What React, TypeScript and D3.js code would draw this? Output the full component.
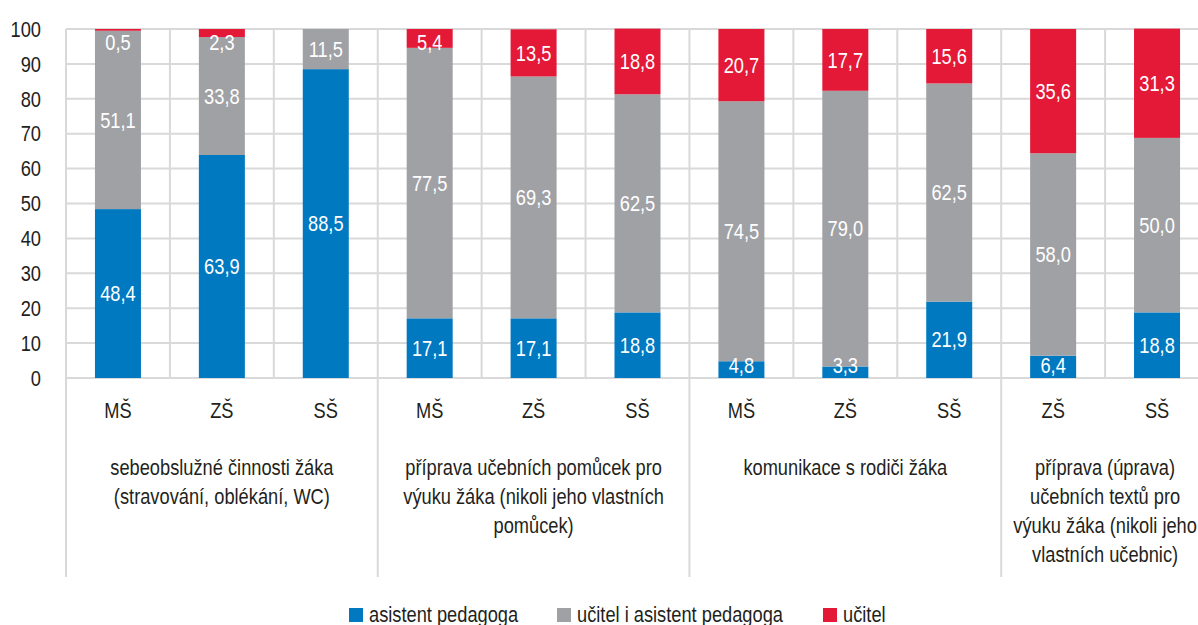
import React from "react";
import * as d3 from "d3";

const schools = ["MŠ", "ZŠ", "SŠ", "MŠ", "ZŠ", "SŠ", "MŠ", "ZŠ", "SŠ", "ZŠ", "SŠ"];
const groupOf = [0, 0, 0, 1, 1, 1, 2, 2, 2, 3, 3];
const groupLabels = [
  ["sebeobslužné činnosti žáka", "(stravování, oblékání, WC)"],
  ["příprava učebních pomůcek pro", "výuku žáka (nikoli jeho vlastních", "pomůcek)"],
  ["komunikace s rodiči žáka"],
  ["příprava (úprava)", "učebních textů pro", "výuku žáka (nikoli jeho", "vlastních učebnic)"],
];
const asistent = [48.4, 63.9, 88.5, 17.1, 17.1, 18.8, 4.8, 3.3, 21.9, 6.4, 18.8];
const oba = [51.1, 33.8, 11.5, 77.5, 69.3, 62.5, 74.5, 79.0, 62.5, 58.0, 50.0];
const ucitel = [0.5, 2.3, 0, 5.4, 13.5, 18.8, 20.7, 17.7, 15.6, 35.6, 31.3];
const seriesNames = ["asistent pedagoga", "učitel i asistent pedagoga", "učitel"];
const colors = ["#0079c1", "#a0a1a5", "#e31937"];
const yTicks = [0, 10, 20, 30, 40, 50, 60, 70, 80, 90, 100];

const W = 1198, H = 625;
const FONT = "'Liberation Sans', Arial, sans-serif";
const FS = 22;
const SX = 0.83;

function T({ x, y, anchor = "start", fill = "#231f20", children }: any) {
  return (
    <text transform={`translate(${x},${y}) scale(${SX},1)`} textAnchor={anchor} fontSize={FS} fill={fill} dy="0.35em">
      {children}
    </text>
  );
}

export default function App() {
  const x = d3.scaleBand<number>().domain(d3.range(schools.length)).range([66, 1209]).padding(0);
  const y = d3.scaleLinear().domain([0, 100]).range([378, 29]);
  const barW = 46;
  const step = x.step();
  const rows = schools.map((s, i) => ({ i, vals: [asistent[i], oba[i], ucitel[i]] }));
  const stack = d3.stack<any>().keys([0, 1, 2] as any).value((d: any, k: any) => d.vals[k]);
  const series = stack(rows as any);

  const groupStarts: number[] = [];
  groupOf.forEach((g, i) => { if (i === 0 || groupOf[i - 1] !== g) groupStarts.push(i); });
  const groups = groupStarts.map((s, gi) => {
    const end = gi + 1 < groupStarts.length ? groupStarts[gi + 1] : schools.length;
    return { start: s, end, label: groupLabels[gi] };
  });

  const legendItems = [
    { x: 349, text: seriesNames[0], c: colors[0] },
    { x: 557, text: seriesNames[1], c: colors[1] },
    { x: 823, text: seriesNames[2], c: colors[2] },
  ];

  return (
    <svg width={W} height={H} style={{ position: "absolute", left: 0, top: 0, background: "#fff" }} fontFamily={FONT}>
      {yTicks.map((t) => (
        <line key={"h" + t} x1={66} x2={W} y1={y(t)} y2={y(t)} stroke="#d9d9d9" strokeWidth={2} />
      ))}
      {d3.range(schools.length + 1).map((i) => {
        const xx = 66 + i * step;
        const isGroup = i === 0 || groupStarts.includes(i);
        return (
          <line key={"v" + i} x1={xx} x2={xx} y1={y(100)} y2={isGroup ? 577 : y(0)} stroke="#d9d9d9" strokeWidth={2} />
        );
      })}
      {yTicks.map((t) => (
        <T key={"yt" + t} x={41} y={y(t)} anchor="end">{t}</T>
      ))}
      {series.map((ser, k) => (
        <g key={"s" + k}>
          {ser.map((d: any, i: number) => {
            const v = d[1] - d[0];
            if (v <= 0) return null;
            const cx = (x(i) as number) + step / 2;
            return (
              <rect key={i} x={cx - barW / 2} y={y(d[1])} width={barW} height={y(d[0]) - y(d[1])} fill={colors[k]} />
            );
          })}
        </g>
      ))}
      {series.map((ser, k) => (
        <g key={"l" + k}>
          {ser.map((d: any, i: number) => {
            const v = d[1] - d[0];
            if (v <= 0) return null;
            const cx = (x(i) as number) + step / 2;
            let cy = (y(d[0]) + y(d[1])) / 2;
            cy = Math.max(y(100) + 13, Math.min(y(0) - 13, cy));
            return (
              <T key={i} x={cx} y={cy} anchor="middle" fill="#fff">
                {d3.format(".1f")(v).replace(".", ",")}
              </T>
            );
          })}
        </g>
      ))}
      {schools.map((s, i) => (
        <T key={"c" + i} x={(x(i) as number) + step / 2} y={410} anchor="middle">{s}</T>
      ))}
      {groups.map((g, gi) => {
        const cx = 66 + ((g.start + g.end) / 2) * step;
        return (
          <g key={"g" + gi}>
            {g.label.map((line, li) => (
              <T key={li} x={cx} y={467 + li * 29} anchor="middle">{line}</T>
            ))}
          </g>
        );
      })}
      {legendItems.map((l, i) => (
        <g key={"lg" + i}>
          <rect x={l.x} y={608} width={14} height={14} fill={l.c} />
          <T x={l.x + 20} y={614}>{l.text}</T>
        </g>
      ))}
    </svg>
  );
}
